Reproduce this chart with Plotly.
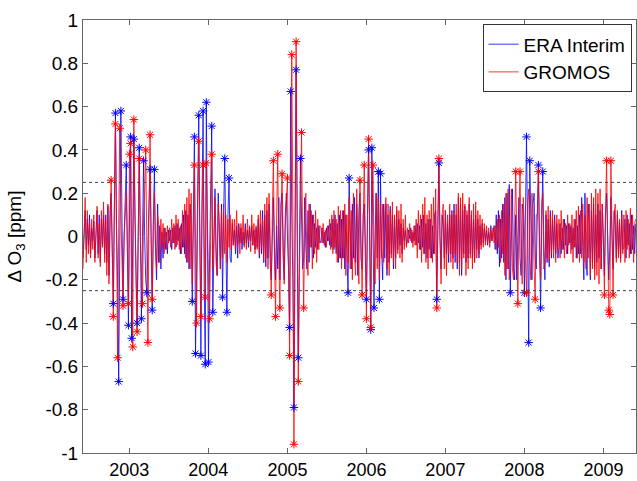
import numpy as np
import pandas as pd
import plotly.graph_objects as go

# ---------------- data ----------------
start_date = "2002-06-01"
step = "5D"

era_interim = [
    -0.10, 0.05, 0.12, -0.06, 0.08, -0.04, 0.10, -0.08, 0.04, -0.02, 0.07, -0.10, 0.02, 0.12, -0.08, 0.10, -0.12, 0.08, -0.04, 0.10,
    -0.08, 0.10, -0.12, 0.14, -0.18, 0.12, 0.20, -0.05, -0.31, 0.15, 0.57, 0.05, -0.20, -0.67, 0.00, 0.58, 0.10, -0.29, 0.00, 0.15,
    0.33, -0.05, -0.41, 0.10, 0.46, -0.47, 0.00, 0.45, 0.10, -0.20, -0.40, 0.00, 0.41, 0.00, -0.38, 0.00, 0.35, 0.00, -0.20, -0.26,
    0.00, 0.15, 0.31, -0.10, -0.34, 0.05, 0.31, -0.05, -0.20, 0.15, -0.12, 0.05, -0.15, 0.02, -0.10, 0.04, -0.06, 0.02, -0.08, 0.03,
    -0.02, 0.03, -0.06, 0.04, -0.03, 0.05, -0.05, 0.06, -0.02, 0.04, -0.08, 0.06, -0.05, 0.10, -0.08, 0.12, -0.12, 0.10, -0.15, 0.15,
    0.05, -0.30, 0.10, 0.46, -0.54, 0.00, 0.20, 0.56, -0.20, -0.55, 0.15, 0.58, -0.20, -0.59, 0.62, 0.00, -0.58, -0.10, 0.20, 0.51,
    -0.35, 0.05, 0.22, -0.05, -0.18, 0.20, -0.05, -0.15, 0.15, -0.28, 0.10, 0.36, 0.00, -0.35, 0.10, 0.27, -0.10, -0.12, 0.06, -0.04,
    0.03, -0.08, 0.05, -0.10, 0.06, -0.03, 0.04, -0.06, 0.02, -0.04, 0.06, -0.03, 0.03, -0.05, 0.04, -0.02, 0.05, -0.04, 0.03, -0.06,
    0.04, -0.05, 0.08, -0.10, 0.06, -0.08, 0.12, -0.12, 0.10, -0.14, 0.12, -0.10, 0.15, -0.12, -0.20, 0.05, 0.18, -0.05, -0.20, 0.05,
    -0.15, 0.18, -0.20, 0.15, 0.20, -0.10, -0.20, 0.10, 0.20, 0.00, -0.15, -0.42, 0.67, 0.10, -0.20, -0.79, 0.20, 0.77, 0.00, -0.56,
    -0.10, 0.36, 0.10, -0.15, -0.10, 0.18, -0.05, -0.15, 0.12, -0.12, 0.15, -0.05, 0.10, -0.10, 0.06, -0.05, 0.04, -0.06, 0.05, -0.03,
    -0.02, 0.04, -0.03, 0.02, -0.05, 0.04, -0.02, 0.05, -0.04, 0.06, -0.05, 0.08, -0.06, 0.10, -0.08, 0.06, -0.12, 0.10, -0.10, 0.08,
    -0.10, 0.12, -0.15, 0.10, -0.08, -0.26, 0.27, -0.05, -0.15, 0.15, -0.10, 0.18, -0.12, 0.15, -0.18, 0.12, 0.20, -0.10, -0.15, 0.10,
    0.15, -0.10, -0.29, 0.10, 0.40, 0.00, -0.43, 0.41, 0.05, -0.33, 0.00, 0.20, -0.10, 0.30, -0.29, 0.29, -0.05, -0.20, 0.15, -0.10,
    0.15, -0.18, 0.10, -0.12, 0.14, -0.08, 0.10, -0.15, 0.08, -0.10, 0.12, -0.06, 0.08, -0.04, 0.06, -0.08, 0.04, -0.02, 0.03, -0.04,
    -0.02, 0.03, -0.01, 0.04, -0.03, 0.02, -0.02, 0.05, -0.04, 0.06, -0.03, 0.05, -0.06, 0.08, -0.05, 0.10, -0.08, 0.06, -0.10, 0.08,
    -0.06, 0.08, -0.10, 0.05, -0.08, 0.10, 0.12, -0.29, 0.05, 0.34, 0.00, -0.15, 0.10, 0.05, -0.10, 0.12, -0.08, 0.06, -0.12, 0.10,
    -0.08, 0.12, -0.10, 0.15, -0.12, 0.10, -0.15, 0.18, -0.12, 0.15, -0.18, 0.12, -0.08, 0.14, -0.12, 0.10, -0.10, 0.15, -0.08, 0.10,
    -0.10, 0.08, -0.12, 0.10, -0.06, 0.08, -0.10, 0.05, -0.04, 0.06, -0.03, 0.04, -0.02, 0.03, -0.04, 0.02, -0.03, 0.05, -0.02, 0.03,
    0.05, -0.06, 0.10, -0.08, 0.12, -0.14, 0.08, -0.10, 0.15, -0.12, 0.18, -0.20, 0.20, -0.15, 0.24, -0.26, 0.10, 0.22, -0.15, -0.20,
    0.10, -0.20, 0.00, 0.18, -0.10, -0.18, 0.15, 0.10, -0.26, 0.10, 0.46, 0.00, -0.49, 0.35, -0.05, -0.20, 0.15, 0.20, -0.10, -0.15,
    0.10, 0.33, 0.00, -0.33, 0.05, 0.30, -0.05, -0.20, 0.10, -0.12, 0.08, -0.14, 0.12, -0.10, 0.08, -0.06, 0.10, -0.08, 0.06, -0.10,
    -0.05, 0.06, -0.08, 0.04, -0.06, 0.08, -0.04, 0.05, -0.08, 0.06, -0.03, 0.05, -0.06, 0.04, -0.05, 0.08, -0.10, 0.05, -0.08, 0.10,
    -0.08, 0.18, -0.05, -0.20, 0.20, -0.10, -0.18, 0.15, 0.05, -0.20, 0.12, -0.12, 0.15, -0.15, 0.10, -0.12, 0.15, -0.10, 0.12, -0.15,
    0.15, -0.05, -0.18, 0.10, 0.20, 0.00, -0.20, -0.05, 0.18, 0.00, -0.15, 0.12, 0.05, -0.10, 0.10, -0.08, 0.06, -0.10, 0.12, -0.06,
    -0.05, 0.08, -0.10, 0.10, -0.04, 0.06, -0.08, 0.10, -0.06, 0.05, -0.08, 0.06,
]

gromos = [
    -0.15, 0.02, 0.18, -0.12, 0.12, -0.08, 0.06, -0.10, 0.08, -0.06, 0.10, -0.12, 0.05, 0.14, -0.10, 0.06, -0.14, 0.12, -0.05, 0.16,
    -0.12, 0.08, -0.18, 0.15, -0.22, 0.10, 0.26, -0.05, -0.37, 0.10, 0.52, 0.00, -0.56, 0.05, 0.50, 0.10, -0.15, -0.32, 0.00, 0.15,
    0.20, -0.05, -0.31, 0.38, 0.43, -0.10, -0.51, 0.54, 0.10, -0.20, -0.44, 0.00, 0.36, 0.00, -0.20, -0.31, 0.10, 0.20, 0.40, -0.10,
    -0.49, 0.10, 0.47, 0.00, -0.29, 0.05, 0.20, -0.05, -0.15, 0.10, 0.05, -0.12, 0.08, -0.05, 0.06, -0.08, 0.04, -0.06, 0.05, -0.03,
    0.04, -0.05, 0.08, -0.03, 0.06, -0.06, 0.10, -0.04, 0.08, -0.06, 0.05, -0.08, 0.12, -0.05, 0.15, -0.10, 0.18, -0.12, 0.22, -0.15,
    0.20, -0.22, 0.15, 0.33, 0.00, -0.40, 0.10, 0.44, 0.00, -0.37, 0.10, 0.33, 0.00, -0.28, 0.34, 0.00, -0.20, -0.38, 0.10, 0.38,
    -0.15, 0.10, 0.18, -0.12, -0.18, 0.15, 0.05, -0.15, 0.12, -0.10, 0.15, -0.08, 0.10, -0.12, 0.08, -0.05, 0.10, -0.06, 0.08, -0.04,
    0.08, -0.06, 0.12, -0.04, 0.05, -0.08, 0.06, -0.03, 0.10, -0.05, 0.04, -0.06, 0.08, -0.02, 0.05, -0.07, 0.10, -0.04, 0.06, -0.08,
    0.05, -0.06, 0.10, -0.08, 0.12, -0.05, 0.08, -0.12, 0.15, -0.10, 0.18, -0.15, 0.20, 0.00, -0.27, 0.10, 0.35, -0.10, -0.37, 0.10,
    0.38, -0.10, -0.33, 0.10, 0.29, 0.00, -0.22, 0.05, 0.15, 0.27, -0.15, -0.55, 0.20, 0.84, 0.10, -0.96, 0.00, 0.90, 0.20, -0.67,
    -0.20, 0.20, 0.48, 0.00, -0.33, 0.05, 0.20, -0.12, -0.18, 0.15, -0.05, 0.12, -0.15, 0.10, -0.08, 0.12, -0.12, 0.08, -0.06, 0.05,
    0.04, -0.03, 0.06, -0.04, 0.03, -0.05, 0.05, -0.02, 0.08, -0.06, 0.10, -0.08, 0.12, -0.05, 0.08, -0.12, 0.14, -0.10, 0.12, -0.15,
    0.12, -0.10, 0.15, -0.18, 0.10, -0.12, 0.18, -0.15, 0.12, -0.20, 0.20, -0.10, -0.18, 0.22, -0.05, -0.22, 0.26, 0.05, -0.27, 0.05,
    0.33, 0.00, -0.38, 0.10, 0.45, 0.00, -0.42, 0.10, 0.33, -0.05, -0.22, 0.20, -0.15, 0.18, -0.20, 0.15, -0.10, 0.15, -0.12, 0.10,
    0.18, -0.15, 0.15, -0.18, 0.12, -0.10, 0.16, -0.12, 0.10, -0.15, 0.14, -0.08, 0.12, -0.10, 0.15, -0.12, 0.08, -0.06, 0.10, -0.05,
    0.04, -0.03, 0.06, -0.02, 0.03, -0.05, 0.05, -0.04, 0.08, -0.10, 0.12, -0.06, 0.10, -0.12, 0.15, -0.08, 0.18, -0.12, 0.10, -0.15,
    0.12, -0.10, 0.15, -0.12, 0.18, -0.08, 0.22, -0.33, 0.05, 0.36, 0.00, -0.22, 0.10, 0.15, -0.15, 0.12, -0.18, 0.10, -0.08, 0.15,
    -0.12, 0.10, -0.15, 0.12, -0.08, 0.15, -0.12, 0.20, -0.18, 0.18, -0.15, 0.20, -0.10, 0.15, -0.18, 0.12, -0.15, 0.18, -0.10, 0.12,
    -0.15, 0.15, -0.12, 0.16, -0.10, 0.12, -0.08, 0.10, -0.06, 0.08, -0.05, 0.06, -0.04, 0.05, -0.03, 0.04, -0.05, 0.03, -0.02, 0.04,
    -0.03, 0.05, -0.06, 0.08, -0.05, 0.10, -0.12, 0.12, -0.08, 0.15, -0.18, 0.20, -0.15, 0.22, -0.20, -0.10, 0.22, -0.15, -0.20, 0.10,
    0.30, 0.00, -0.31, 0.10, 0.30, -0.05, -0.22, 0.18, 0.05, -0.15, -0.26, 0.15, 0.22, -0.10, -0.20, 0.20, 0.10, -0.15, -0.29, 0.10,
    0.10, 0.30, -0.10, -0.20, 0.15, 0.20, -0.15, -0.12, 0.12, -0.10, 0.14, -0.12, 0.10, -0.08, 0.12, -0.10, 0.08, -0.12, 0.10, -0.06,
    0.08, -0.10, 0.12, -0.06, 0.08, -0.10, 0.06, -0.08, 0.10, -0.04, 0.06, -0.08, 0.10, -0.12, 0.08, -0.05, 0.12, -0.10, 0.14, -0.12,
    0.12, -0.10, 0.15, -0.12, 0.10, -0.15, 0.18, -0.10, 0.15, -0.18, 0.20, -0.15, 0.18, -0.20, 0.22, -0.18, 0.20, -0.22, 0.22, -0.15,
    0.15, 0.00, -0.27, 0.10, 0.35, 0.00, -0.34, -0.36, 0.35, 0.05, -0.27, 0.10, 0.15, -0.12, 0.12, -0.10, 0.08, -0.12, 0.10, -0.08,
    0.10, -0.12, 0.12, -0.06, 0.08, -0.10, 0.13, -0.08, 0.10, -0.12, 0.06, 0.08,
]

threshold = 0.25
year_ticks = [2003, 2004, 2005, 2006, 2007, 2008, 2009]
year_labels = ["2003", "2004", "2005", "2006", "2007", "2008", "2009"]
y_ticks = [-1, -0.8, -0.6, -0.4, -0.2, 0, 0.2, 0.4, 0.6, 0.8, 1]
y_labels = ["-1", "-0.8", "-0.6", "-0.4", "-0.2", "0", "0.2", "0.4", "0.6", "0.8", "1"]
x_range = ["2002-06-01", "2009-05-31"]

# ---------------- figure ----------------
era = np.array(era_interim)
gro = np.array(gromos)
t_era = pd.date_range(start_date, periods=len(era), freq=step)
t_gro = pd.date_range(start_date, periods=len(gro), freq=step)

BLUE = "rgb(0,0,255)"
RED = "rgb(255,0,0)"
FONT = "Liberation Sans, Arial, Helvetica, sans-serif"

fig = go.Figure()
fig.add_trace(go.Scatter(x=t_era, y=era, mode="lines", name="ERA Interim",
                         line=dict(color=BLUE, width=0.8)))
fig.add_trace(go.Scatter(x=t_gro, y=gro, mode="lines", name="GROMOS",
                         line=dict(color=RED, width=0.8)))

m_era = np.abs(era) > threshold
m_gro = np.abs(gro) > threshold
fig.add_trace(go.Scatter(x=t_era[m_era], y=era[m_era], mode="markers", showlegend=False,
                         marker=dict(symbol="asterisk-open", size=7, color=BLUE,
                                     line=dict(color=BLUE, width=1))))
fig.add_trace(go.Scatter(x=t_gro[m_gro], y=gro[m_gro], mode="markers", showlegend=False,
                         marker=dict(symbol="asterisk-open", size=7, color=RED,
                                     line=dict(color=RED, width=1))))

for yv in (threshold, -threshold):
    fig.add_shape(type="line", xref="paper", x0=0, x1=1, yref="y", y0=yv, y1=yv,
                  line=dict(color="#444", width=1, dash="dot"), layer="above")

axis_common = dict(showgrid=False, zeroline=False, showline=True, linecolor="#666",
                   linewidth=1, mirror="ticks", ticks="inside", ticklen=5,
                   tickcolor="#666")

fig.update_layout(
    width=637, height=481,
    margin=dict(l=83, r=1, t=20, b=28, autoexpand=False),
    paper_bgcolor="white", plot_bgcolor="white",
    font=dict(family=FONT, size=19, color="black"),
    xaxis=dict(type="date", range=x_range,
               tickvals=[f"{y}-01-01" for y in year_ticks], ticktext=year_labels,
               tickfont=dict(family=FONT, size=18, color="black"),
               **axis_common),
    yaxis=dict(range=[-1, 1], tickvals=y_ticks, ticktext=y_labels,
               tickfont=dict(family=FONT, size=19, color="black"),
               title=dict(text="Δ O<sub>3</sub> [ppm]", font=dict(family=FONT, size=19), standoff=18),
               **axis_common),
    legend=dict(x=0.992, y=0.99, xanchor="right", yanchor="top",
                bgcolor="white", bordercolor="#333", borderwidth=1,
                font=dict(family=FONT, size=19), tracegroupgap=0,
                itemwidth=30),
    showlegend=True,
)

fig.write_html("out.html")
